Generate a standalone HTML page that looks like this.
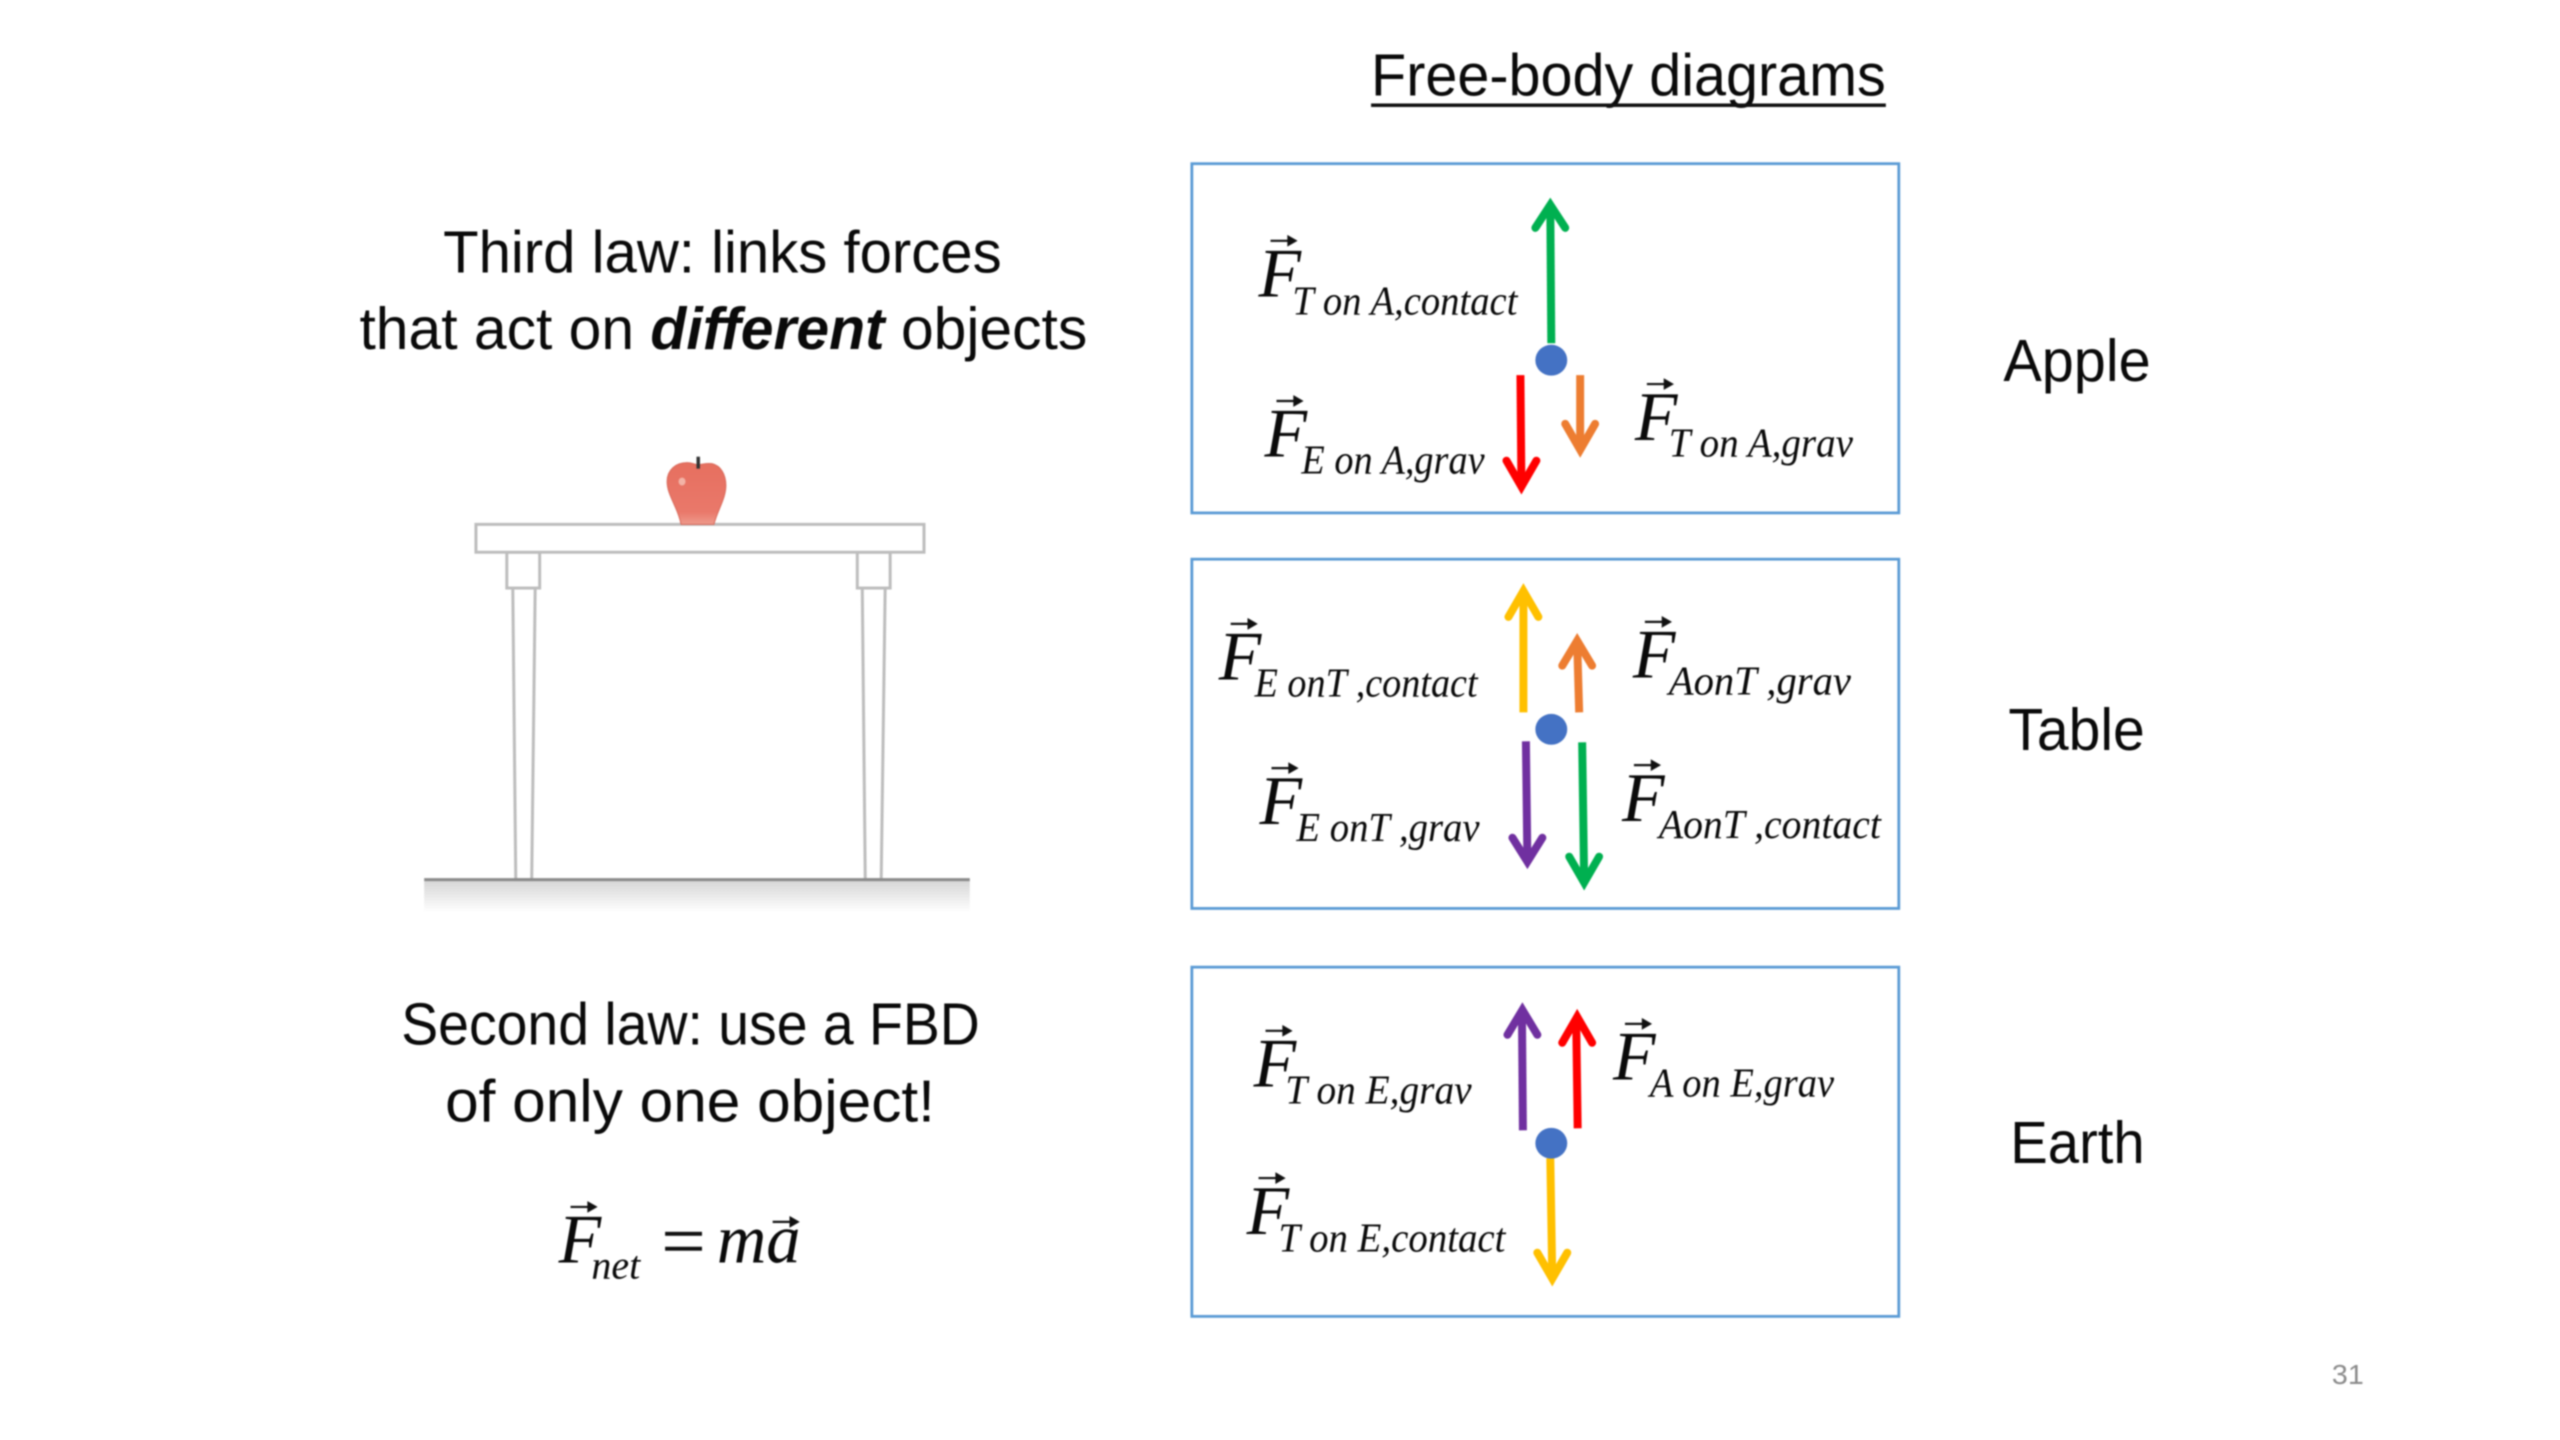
<!DOCTYPE html>
<html>
<head>
<meta charset="utf-8">
<title>Free-body diagrams</title>
<style>
html,body{margin:0;padding:0;background:#fff;width:2560px;height:1440px;overflow:hidden}
svg{display:block;position:absolute;left:0;top:0;filter:blur(0.9px)}
.s{font-family:"Liberation Sans",sans-serif;fill:#0a0a0a}
.m{font-family:"Liberation Serif",serif;font-style:italic;fill:#0a0a0a}
.f{font-size:70px}
.u{font-size:41px}
.b{fill:none;stroke:#5b9bd5;stroke-width:2.8}
.a{fill:none;stroke-width:8;stroke-linejoin:miter;stroke-miterlimit:12}
.w{fill:none;stroke-width:8;stroke-linecap:round;stroke-linejoin:miter;stroke-miterlimit:12}
.v{fill:#111;stroke:#111;stroke-width:2.2}
.t{fill:#fff;stroke:#bdbdbd;stroke-width:3}
</style>
</head>
<body>
<svg width="2560" height="1440" viewBox="0 0 2560 1440" xmlns="http://www.w3.org/2000/svg">
<defs>
<linearGradient id="g" x1="0" y1="0" x2="0" y2="1"><stop offset="0" stop-color="#d6d6d6"/><stop offset="1" stop-color="#ffffff"/></linearGradient>
<linearGradient id="ap" x1="0" y1="0" x2="0" y2="1"><stop offset="0" stop-color="#e66f5f"/><stop offset="0.8" stop-color="#e9786a"/><stop offset="1" stop-color="#ee9a8c"/></linearGradient>
</defs>
<g transform="matrix(0.9957 0 0 0.995 -1 0)">

<!-- Title -->
<text class="s" x="1378" y="96" font-size="60" textLength="517" lengthAdjust="spacingAndGlyphs">Free-body diagrams</text>
<rect x="1378" y="104" width="517" height="3.5" fill="#111"/>

<!-- Left text -->
<text class="s" x="446" y="274" font-size="60" textLength="561" lengthAdjust="spacingAndGlyphs">Third law: links forces</text>
<text class="s" x="362" y="351" font-size="60" textLength="731" lengthAdjust="spacingAndGlyphs">that act on <tspan font-weight="bold" font-style="italic">different</tspan> objects</text>
<text class="s" x="404" y="1050" font-size="60" textLength="581" lengthAdjust="spacingAndGlyphs">Second law: use a FBD</text>
<text class="s" x="448" y="1127" font-size="60" textLength="492" lengthAdjust="spacingAndGlyphs">of only one object!</text>

<!-- Right labels -->
<text class="s" x="2013" y="383" font-size="60" textLength="148" lengthAdjust="spacingAndGlyphs">Apple</text>
<text class="s" x="2018" y="754" font-size="60" textLength="137" lengthAdjust="spacingAndGlyphs">Table</text>
<text class="s" x="2020" y="1169" font-size="60" textLength="135" lengthAdjust="spacingAndGlyphs">Earth</text>
<text class="s" x="2343" y="1391" font-size="28" textLength="32" lengthAdjust="spacingAndGlyphs" style="fill:#8b8b8b">31</text>

<!-- Table illustration -->
<g transform="translate(2 0)">
<rect x="425" y="885" width="548" height="32" fill="url(#g)"/>
<path class="t" d="M514 591 L517 884 L533 884 L536.5 591"/>
<path class="t" d="M865 591 L868 884 L884 884 L888 591"/>
<rect class="t" x="508" y="555" width="33" height="36"/>
<rect class="t" x="860" y="555" width="33" height="36"/>
<rect class="t" x="477" y="527" width="450" height="28"/>
<line x1="425" y1="884" x2="973" y2="884" stroke="#8a8a8a" stroke-width="3"/>
<!-- Apple -->
<path d="M683 527 C680 510 669 498 669 484 C669 472 678 465 689 465 C694 465 697 467 700 467 C704 467 708 465 714 466 C723 468 728 477 728 488 C728 501 720 512 716 527 Z" fill="url(#ap)" stroke="#d9695a" stroke-width="1"/>
<ellipse cx="684" cy="484" rx="3.5" ry="4" fill="#f3b3a6"/>
<rect x="698.5" y="459" width="3.5" height="12" fill="#333"/>
</g>

<!-- Boxes -->
<rect class="b" x="1198" y="164.5" width="710" height="351"/>
<rect class="b" x="1198" y="562" width="710" height="351"/>
<rect class="b" x="1198" y="972" width="710" height="351"/>

<!-- Box 1 arrows -->
<path class="a" d="M1559 345 L1558 208" stroke="#00b050"/>
<path class="w" d="M1543 229 L1558 206 L1573 229" stroke="#00b050"/>
<path class="a" d="M1528 377 L1529 488" stroke="#ff0000"/>
<path class="w" d="M1514 463 L1529 489 L1544 463" stroke="#ff0000"/>
<path class="a" d="M1588 377 L1588 450" stroke="#ed7d31"/>
<path class="w" d="M1573 426 L1588 452 L1603 426" stroke="#ed7d31"/>
<ellipse cx="1559" cy="362" rx="16" ry="15.5" fill="#4472c4"/>

<!-- Box 2 arrows -->
<path class="a" d="M1531 716 L1531 596" stroke="#ffc000"/>
<path class="w" d="M1516 620 L1531 594 L1546 620" stroke="#ffc000"/>
<path class="a" d="M1587 716 L1585 646" stroke="#ed7d31"/>
<path class="w" d="M1570 669 L1585 644 L1600 669" stroke="#ed7d31"/>
<path class="a" d="M1533.5 745 L1535 865" stroke="#7030a0"/>
<path class="w" d="M1520 842 L1535 866 L1550 842" stroke="#7030a0"/>
<path class="a" d="M1590 746 L1592 885" stroke="#00b050"/>
<path class="w" d="M1577 861 L1592 887 L1607 861" stroke="#00b050"/>
<ellipse cx="1559" cy="733" rx="16" ry="15.5" fill="#4472c4"/>

<!-- Box 3 arrows -->
<path class="a" d="M1530.5 1136 L1529.5 1017" stroke="#7030a0"/>
<path class="w" d="M1515 1040 L1530 1015 L1545 1040" stroke="#7030a0"/>
<path class="a" d="M1585.5 1134 L1584 1024" stroke="#ff0000"/>
<path class="w" d="M1570 1048 L1585 1022 L1600 1048" stroke="#ff0000"/>
<path class="a" d="M1558 1164 L1560 1284" stroke="#ffc000"/>
<path class="w" d="M1545 1259 L1560 1285 L1575 1259" stroke="#ffc000"/>
<ellipse cx="1559" cy="1149" rx="16" ry="15.5" fill="#4472c4"/>

<!-- Box 1 labels -->
<text class="m f" x="1265" y="298">F</text>
<path class="v" d="M1277 242 H1299 M1295 238 L1302 242 L1295 246 Z"/>
<text class="m u" x="1299" y="316" textLength="226" lengthAdjust="spacingAndGlyphs">T on A,contact</text>

<text class="m f" x="1271" y="459">F</text>
<path class="v" d="M1283 403 H1305 M1301 399 L1308 403 L1301 407 Z"/>
<text class="m u" x="1308" y="476" textLength="184" lengthAdjust="spacingAndGlyphs">E on A,grav</text>

<text class="m f" x="1643" y="442">F</text>
<path class="v" d="M1655 386 H1677 M1673 382 L1680 386 L1673 390 Z"/>
<text class="m u" x="1677" y="459" textLength="185" lengthAdjust="spacingAndGlyphs">T on A,grav</text>

<!-- Box 2 labels -->
<text class="m f" x="1225" y="683">F</text>
<path class="v" d="M1237 627 H1259 M1255 623 L1262 627 L1255 631 Z"/>
<text class="m u" x="1261" y="700" textLength="224" lengthAdjust="spacingAndGlyphs">E onT ,contact</text>

<text class="m f" x="1266" y="828">F</text>
<path class="v" d="M1278 772 H1300 M1296 768 L1303 772 L1296 776 Z"/>
<text class="m u" x="1303" y="845" textLength="184" lengthAdjust="spacingAndGlyphs">E onT ,grav</text>

<text class="m f" x="1641" y="681">F</text>
<path class="v" d="M1653 625 H1675 M1671 621 L1678 625 L1671 629 Z"/>
<text class="m u" x="1677" y="698" textLength="183" lengthAdjust="spacingAndGlyphs">AonT ,grav</text>

<text class="m f" x="1630" y="825">F</text>
<path class="v" d="M1642 769 H1664 M1660 765 L1667 769 L1660 773 Z"/>
<text class="m u" x="1667" y="842" textLength="223" lengthAdjust="spacingAndGlyphs">AonT ,contact</text>

<!-- Box 3 labels -->
<text class="m f" x="1260" y="1092">F</text>
<path class="v" d="M1272 1036 H1294 M1290 1032 L1297 1036 L1290 1040 Z"/>
<text class="m u" x="1292" y="1109" textLength="187" lengthAdjust="spacingAndGlyphs">T on E,grav</text>

<text class="m f" x="1621" y="1085">F</text>
<path class="v" d="M1633 1029 H1655 M1651 1025 L1658 1029 L1651 1033 Z"/>
<text class="m u" x="1658" y="1102" textLength="185" lengthAdjust="spacingAndGlyphs">A on E,grav</text>

<text class="m f" x="1253" y="1240">F</text>
<path class="v" d="M1265 1184 H1287 M1283 1180 L1290 1184 L1283 1188 Z"/>
<text class="m u" x="1285" y="1258" textLength="228" lengthAdjust="spacingAndGlyphs">T on E,contact</text>

<!-- Equation -->
<text class="m f" x="562" y="1269">F</text>
<path class="v" d="M574 1213 H596 M592 1209 L599 1213 L592 1217 Z"/>
<text class="m" x="595" y="1285" font-size="40" textLength="49" lengthAdjust="spacingAndGlyphs">net</text>
<rect x="669" y="1238" width="37" height="4" fill="#111"/>
<rect x="669" y="1253" width="37" height="4" fill="#111"/>
<text class="m" x="721" y="1269" font-size="70" textLength="84" lengthAdjust="spacingAndGlyphs">ma</text>
<path class="v" d="M777 1228 H799 M795 1224 L802 1228 L795 1232 Z"/>
</g>
</svg>
</body>
</html>
